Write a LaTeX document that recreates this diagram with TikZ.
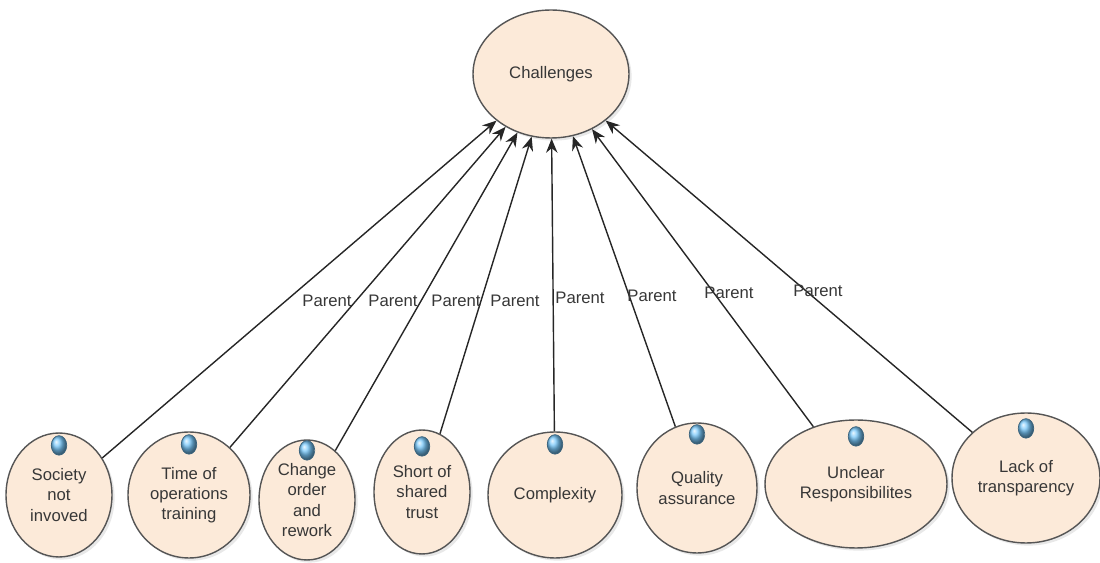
\documentclass[tikz,border=0pt]{standalone}
\usepackage{fontspec}
\setmainfont{Liberation Sans}
\usepackage{xcolor}
\usepackage{tikz}
\usetikzlibrary{positioning, arrows.meta, shapes.geometric, shadows}

\definecolor{peach}{RGB}{252,234,217}
\definecolor{rim}{RGB}{85,85,85}
\definecolor{inktext}{RGB}{55,55,55}
\definecolor{beadblue}{RGB}{120,200,250}

\begin{document}
\begin{tikzpicture}[x=0.02cm, y=-0.02cm,
    cause/.style={ellipse, draw=rim, line width=0.8pt, fill=peach, inner sep=0pt, align=center,
      text=inktext, font=\fontsize{9.5}{11.5}\selectfont,
      drop shadow={shadow xshift=1.5pt, shadow yshift=-1.5pt, opacity=0.18}},
    bead/.style={ellipse, minimum width=0.31cm, minimum height=0.39cm, inner sep=0pt,
      ball color=beadblue, draw=beadblue!50!black, line width=0.4pt},
    link/.style={draw=black!85, line width=0.8pt, -{Stealth[length=8pt, width=6.5pt]}},
    lbl/.style={text=inktext, font=\fontsize{9.5}{11}\selectfont, inner sep=1pt}]
    \useasboundingbox (0,0) rectangle (1100,563);

    % root
    \node[cause, minimum width=3.12cm, minimum height=2.56cm] (challenges) at (551,74) {Challenges};

    % children
    \node[cause, minimum width=2.12cm, minimum height=2.48cm] (society) at (59,495) {Society\\not\\invoved};
    \node[cause, minimum width=2.44cm, minimum height=2.52cm] (time) at (189,495) {Time of\\operations\\training};
    \node[cause, minimum width=1.92cm, minimum height=2.4cm] (change) at (307,500) {Change\\order\\and\\rework};
    \node[cause, minimum width=1.92cm, minimum height=2.48cm] (trust) at (422,492) {Short of\\shared\\trust};
    \node[cause, minimum width=2.68cm, minimum height=2.52cm] (complexity) at (555,495) {Complexity};
    \node[cause, minimum width=2.4cm, minimum height=2.6cm] (quality) at (697,488) {Quality\\assurance};
    \node[cause, minimum width=3.64cm, minimum height=2.56cm] (unclear) at (856,484) {Unclear\\Responsibilites};
    \node[cause, minimum width=2.96cm, minimum height=2.6cm] (lack) at (1026,478) {Lack of\\transparency};

    % icons
    \node[bead, below=0.06cm of society.north] (society-bead) {};
    \node[bead, below=0.06cm of time.north] (time-bead) {};
    \node[bead, below=0.02cm of change.north] (change-bead) {};
    \node[bead, below=0.14cm of trust.north] (trust-bead) {};
    \node[bead, below=0.06cm of complexity.north] (complexity-bead) {};
    \node[bead, below=0.04cm of quality.north] (quality-bead) {};
    \node[bead, below=0.14cm of unclear.north] (unclear-bead) {};
    \node[bead, below=0.12cm of lack.north] (lack-bead) {};

    % links
    \draw[link] (society) -- (challenges);
    \draw[link] (time) -- (challenges);
    \draw[link] (change) -- (challenges);
    \draw[link] (trust) -- (challenges);
    \draw[link] (complexity) -- (challenges);
    \draw[link] (quality) -- (challenges);
    \draw[link] (unclear) -- (challenges);
    \draw[link] (lack) -- (challenges);

    % labels
    \node[lbl] (society-lbl) at (327,301) {Parent};
    \node[lbl] (time-lbl) at (393,301) {Parent};
    \node[lbl] (change-lbl) at (456,301) {Parent};
    \node[lbl] (trust-lbl) at (515,301) {Parent};
    \node[lbl] (complexity-lbl) at (580,298) {Parent};
    \node[lbl] (quality-lbl) at (652,296) {Parent};
    \node[lbl] (unclear-lbl) at (729,293) {Parent};
    \node[lbl] (lack-lbl) at (818,291) {Parent};
\end{tikzpicture}
\end{document}
